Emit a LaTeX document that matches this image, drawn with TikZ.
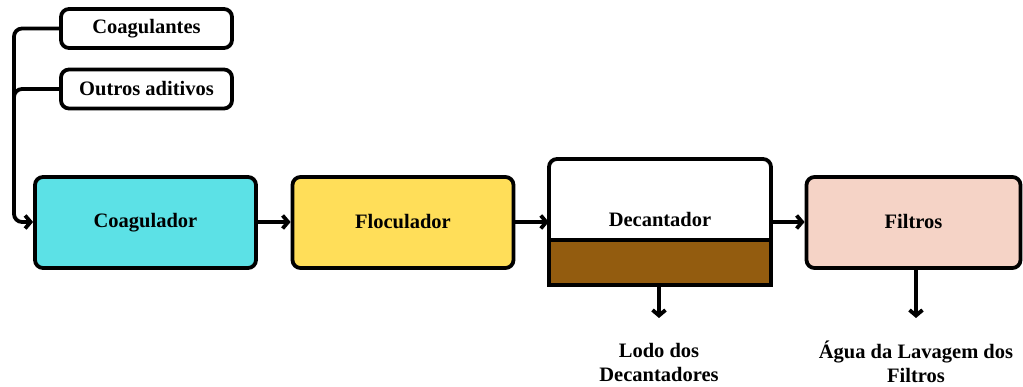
\documentclass[tikz,border=0pt]{standalone}
\usepackage{fontspec}
\setmainfont{Liberation Serif}
\usetikzlibrary{arrows.meta,calc}
\definecolor{cyanbox}{HTML}{5CE1E6}
\definecolor{yellowbox}{HTML}{FFDE59}
\definecolor{pinkbox}{HTML}{F5D3C6}
\definecolor{sludge}{HTML}{935C0F}
\tikzset{
  every picture/.style={x=1pt,y=-1pt},
  lw/.style={line width=3.8pt},
  proc/.style={lw,draw=black,rounded corners=8pt,minimum width=221pt,minimum height=91pt,inner sep=0pt,font=\fontsize{20.5}{24}\selectfont\bfseries},
  addbox/.style={lw,draw=black,fill=white,rounded corners=8pt,minimum width=171pt,minimum height=39pt,inner sep=0pt,font=\fontsize{20.5}{24}\selectfont\bfseries},
  lbl/.style={align=center,font=\fontsize{20.5}{24}\selectfont\bfseries,inner sep=0pt},
  arr/.style={lw,-{Straight Barb[length=5.5pt,width=13pt,line width=3.8pt]}},
}
\begin{document}
\begin{tikzpicture}
\useasboundingbox (0,0) rectangle (1023,387);
% additives
\node[addbox] (coagulantes) at (146.5,28.5) {\raisebox{1pt}{Coagulantes}};
\node[addbox] (outros) at (146.5,89) {\raisebox{1pt}{Outros aditivos}};
% processes
\node[proc,fill=cyanbox] (coagulador) at (145.5,222.5) {\raisebox{2.5pt}{Coagulador}};
\node[proc,fill=yellowbox] (floculador) at (403,222.5) {\raisebox{2.5pt}{Floculador}};
\node[proc,fill=pinkbox,minimum width=214pt] (filtros) at (913.5,222.5) {\raisebox{2.5pt}{Filtros}};
% decantador
\fill[sludge] (549,240) rectangle (771,285);
\draw[lw] (549,240) -- (771,240);
\draw[lw] (549,285) [rounded corners=8pt] -- (549,159) -- (771,159) [sharp corners] -- (771,285) -- cycle;
\node[inner sep=0pt,minimum width=222pt,minimum height=126pt] (decantador) at (660,222) {};
\node[lbl] (dectext) at (660,219) {Decantador};
% feeds
\coordinate (j) at (14,222);
\draw[arr,rounded corners=8pt] (coagulantes.west) -| (j) -- (coagulador.west |- j);
\draw[lw,rounded corners=8pt] (outros.west) -| ($(j)+(0,-60)$);
% main line
\draw[arr] (coagulador.east |- j) -- (floculador.west |- j);
\draw[arr] (floculador.east |- j) -- (decantador.west |- j);
\draw[arr] (decantador.east |- j) -- (filtros.west |- j);
% outputs
\node[lbl] (lodo) at (659,362) {Lodo dos\\Decantadores};
\node[lbl] (agua) at (916,362) {Água da Lavagem dos\\Filtros};
\coordinate (lodoend) at (659,318);
\coordinate (aguaend) at (916,318);
\draw[arr] (decantador.south -| lodoend) -- (lodoend);
\draw[arr] (filtros.south -| aguaend) -- (aguaend);
\end{tikzpicture}
\end{document}
